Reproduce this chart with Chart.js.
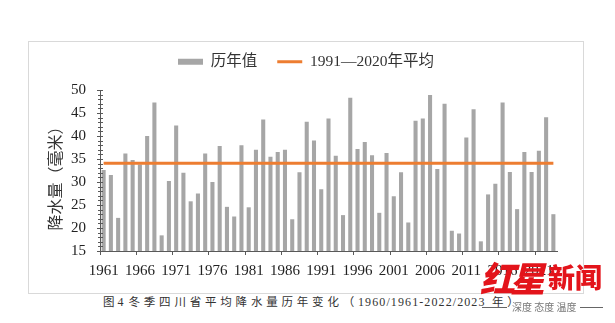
<!DOCTYPE html>
<html lang="zh">
<head>
<meta charset="utf-8">
<script src="https://cdn.jsdelivr.net/npm/chart.js@4.4.1/dist/chart.umd.min.js"></script>
<style>
  html, body { margin:0; padding:0; background:#fff; }
  body { width:615px; height:323px; position:relative; overflow:hidden; }
  #frame { position:absolute; left:28px; top:41px; width:554px; height:251px; border:1px solid #d9d9d9; }
  #chart { display:block; }
  #caption { position:absolute; left:103px; top:294px; font-size:11.5px; line-height:14px; color:#333; white-space:nowrap; font-family:'Noto Sans CJK SC', sans-serif; }
  #caption .sp { letter-spacing:3.8px; }
  #caption .num { font-family:'Liberation Serif', serif; letter-spacing:1.1px; font-size:12px; }
  .wm { position:absolute; white-space:nowrap; z-index:5; }
  #wm1 { left:480px; top:257px; font-size:35px; line-height:40px; font-weight:900; font-style:italic; color:#e3141b; font-family:'Noto Sans CJK SC', sans-serif; letter-spacing:-5px; }
  #wm2 { left:548px; top:262px; font-size:27px; line-height:30px; font-weight:900; color:#e3141b; font-family:'Noto Sans CJK SC', sans-serif; letter-spacing:0px; }
  #wm3 { left:512px; top:301px; font-size:10px; line-height:12px; color:#777; font-family:'Noto Sans CJK SC', sans-serif; }
  .wline { position:absolute; height:1px; background:#666; z-index:5; top:307px; }
</style>
</head>
<body>
<div id="frame"><canvas id="chart" width="554" height="251"></canvas></div>
<div id="caption"><span>图</span><span class="num" style="margin:0 5px 0 3px;letter-spacing:0">4</span><span class="sp">冬季四川省平均降水量历年变化（</span><span class="num">1960/1961-2022/2023</span><span class="sp"> 年）</span></div>
<div class="wm" id="wm1">红星</div>
<div class="wm" id="wm2">新闻</div>
<div class="wm" id="wm3">深度 态度 温度</div>
<div class="wline" style="left:482px;width:25px;"></div>
<div class="wline" style="left:580px;width:23px;"></div>
<script>
// ---- data ----
const years = ['1961','1962','1963','1964','1965','1966','1967','1968','1969','1970',
  '1971','1972','1973','1974','1975','1976','1977','1978','1979','1980',
  '1981','1982','1983','1984','1985','1986','1987','1988','1989','1990',
  '1991','1992','1993','1994','1995','1996','1997','1998','1999','2000',
  '2001','2002','2003','2004','2005','2006','2007','2008','2009','2010',
  '2011','2012','2013','2014','2015','2016','2017','2018','2019','2020',
  '2021','2022','2023'];
const precipitation = [32.6,31.5,22.2,36.2,34.8,33.8,40.0,47.3,18.4,30.2,
  42.3,32.0,25.8,27.5,36.2,30.0,37.8,24.6,22.5,38.0,
  24.5,37.0,43.6,35.5,36.5,37.0,21.9,32.1,43.1,39.0,
  28.4,43.8,35.7,22.8,48.3,37.2,38.7,35.8,23.3,36.3,
  26.9,32.1,21.2,43.3,43.8,48.9,32.8,47.0,19.4,18.8,
  39.7,45.8,17.1,27.3,29.6,47.3,32.2,24.1,36.5,32.2,
  36.8,44.1,23.0];
const normalValue = 34.1;           // 1991—2020年平均
const normalSpan = ['1961','2023']; // line drawn across all years
const seriesNames = ['历年值','1991—2020年平均'];
const yAxisTitle = '降水量（毫米）';
const yMin = 15, yMax = 50, yStep = 5;
const labelEvery = 5;

const serif = "'Liberation Serif', 'Noto Sans CJK SC', serif";
const axisColor = '#595959';

const legendMargin = {
  id: 'legendMargin',
  beforeInit(chart) {
    const origFit = chart.legend.fit;
    chart.legend.fit = function () {
      origFit.bind(chart.legend)();
      this.height += 10.5;
    };
  }
};

const yMinorTicks = {
  id: 'yMinorTicks',
  afterDraw(chart) {
    const s = chart.scales.y;
    const x0 = chart.chartArea.left;
    const ctx = chart.ctx;
    ctx.save();
    ctx.strokeStyle = axisColor;
    ctx.lineWidth = 1;
    ctx.beginPath();
    for (let v = s.min; v <= s.max; v += 1) {
      const y = Math.round(s.getPixelForValue(v)) + 0.5;
      ctx.moveTo(x0 - 2, y);
      ctx.lineTo(x0 + 3, y);
    }
    ctx.stroke();
    ctx.restore();
  }
};

new Chart(document.getElementById('chart'), {
  type: 'bar',
  data: {
    labels: years,
    datasets: [
      {
        label: seriesNames[0],
        data: precipitation,
        backgroundColor: '#a6a6a6',
        borderWidth: 0,
        categoryPercentage: 1,
        barPercentage: 0.56,
        pointStyle: 'rect',
        order: 1
      },
      {
        type: 'line',
        label: seriesNames[1],
        data: [{x: normalSpan[0], y: normalValue}, {x: normalSpan[1], y: normalValue}],
        borderColor: '#ed7d31',
        backgroundColor: '#ed7d31',
        borderWidth: 3,
        pointRadius: 0,
        pointStyle: 'line',
        fill: false,
        order: 0
      }
    ]
  },
  options: {
    responsive: false,
    animation: false,
    layout: { padding: { top: -8, right: 0, left: 0, bottom: 0 } },
    plugins: {
      tooltip: { enabled: false },
      legend: {
        position: 'top',
        labels: {
          usePointStyle: true,
          pointStyleWidth: 25,
          boxHeight: 6,
          padding: 20,
          color: '#333',
          font: { family: serif, size: 15.5 },
          sort: (a, b) => a.datasetIndex - b.datasetIndex
        }
      }
    },
    scales: {
      x: {
        type: 'category',
        offset: true,
        grid: {
          offset: true,
          drawOnChartArea: false,
          drawTicks: true,
          tickLength: 4,
          tickColor: (c) => (c.index !== undefined && c.index % labelEvery === 0) ? axisColor : 'rgba(0,0,0,0)',
          color: 'rgba(0,0,0,0)'
        },
        border: { display: true, color: axisColor, width: 1 },
        ticks: {
          autoSkip: false,
          maxRotation: 0,
          minRotation: 0,
          padding: 7,
          color: '#222',
          font: { family: serif, size: 15 },
          callback: (v, i) => (i % labelEvery === 0 ? years[i] : '')
        },
        afterFit: (s) => { s.height = 42; }
      },
      y: {
        min: yMin,
        max: yMax,
        ticks: {
          stepSize: yStep,
          padding: 11,
          color: '#222',
          font: { family: serif, size: 15 }
        },
        grid: {
          drawOnChartArea: false,
          drawTicks: true,
          tickLength: 3,
          tickColor: axisColor
        },
        border: { display: true, color: axisColor, width: 1 },
        title: {
          display: true,
          text: yAxisTitle + '\u3000',
          color: '#333',
          font: { family: serif, size: 16 },
          padding: { top: 18, bottom: 0 }
        },
        afterFit: (s) => { s.width = 71; }
      },
      yRightSpace: {
        position: 'right',
        display: true,
        grid: { display: false, drawTicks: false },
        border: { display: false },
        ticks: { display: false },
        afterFit: (s) => { s.width = 26; }
      }
    }
  },
  plugins: [legendMargin, yMinorTicks]
});
</script>
</body>
</html>
